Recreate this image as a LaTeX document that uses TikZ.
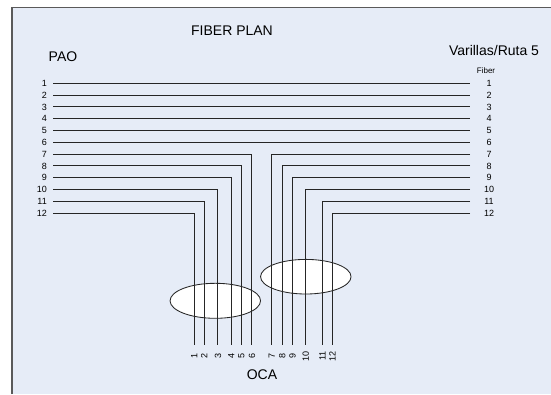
\documentclass[tikz,border=0pt]{standalone}
\usepackage{fontspec}
\setmainfont{Liberation Sans}
\usetikzlibrary{shapes.geometric}
\definecolor{bgblue}{HTML}{E6ECF7}
\definecolor{framegray}{HTML}{5A5A5A}
\begin{document}
\begin{tikzpicture}[x=1pt,y=-1pt,
  fiber/.style={draw=black!85,line width=0.85pt},
  numlbl/.style={inner sep=0pt,font=\fontsize{9}{10}\selectfont},
  title/.style={inner sep=0pt,font=\fontsize{14}{16}\selectfont},
  bundle/.style={draw=black!85,fill=white,line width=0.85pt}]
\useasboundingbox (0,0) rectangle (551,394);
\fill[white] (0,0) rectangle (551,394);
\fill[bgblue] (12,7.5) rectangle (551,394);
\draw[framegray,line width=1.5pt] (12,394) -- (12,7.5) -- (551,7.5);
% titles
\node[title] (title) at (232,31) {FIBER PLAN};
\node[title] (pao) at (63,57) {PAO};
\node[title] (var) at (494,50) {Varillas/Ruta 5};
\node[inner sep=0pt,font=\fontsize{8}{9}\selectfont] (fib) at (486,71) {Fiber};
\node[title] (oca) at (262,375) {OCA};
% bundles
\node[bundle,ellipse,minimum width=90.5pt,minimum height=35pt,inner sep=0pt] (e1) at (215.3,300.8) {};
\node[bundle,ellipse,minimum width=90.5pt,minimum height=34.6pt,inner sep=0pt] (e2) at (305.8,276.7) {};
% horizontal positions
\foreach \i in {1,...,12}{
  \pgfmathsetmacro\yy{83.3+(\i-1)*11.8}
  \node[numlbl,anchor=east] (L\i) at (47,\yy) {\i};
  \node[numlbl] (R\i) at (489,\yy) {\i};
  \coordinate (a\i) at (53,\yy);
  \coordinate (b\i) at (470,\yy);
}
% straight fibers 1-6
\foreach \i in {1,...,6}{
  \draw[fiber] (a\i) -- (b\i);
}
% bottom labels and ends
\foreach \j/\xx in {1/194.3,2/204.3,3/217.9,4/231.2,5/241.2,6/251.9,7/271.8,8/282.3,9/292.4,10/305.7,11/322.4,12/332.4}{
  \node[numlbl,rotate=90] (B\j) at (\xx,356) {\j};
  \coordinate (c\j) at (\xx,345);
}
% left group: PAO line 13-j to OCA j
\foreach \j in {1,...,6}{
  \pgfmathtruncatemacro\k{13-\j}
  \draw[fiber] (a\k) -| (c\j);
}
% right group: Varillas line j to OCA j
\foreach \j in {7,...,12}{
  \draw[fiber] (b\j) -| (c\j);
}
\end{tikzpicture}
\end{document}
